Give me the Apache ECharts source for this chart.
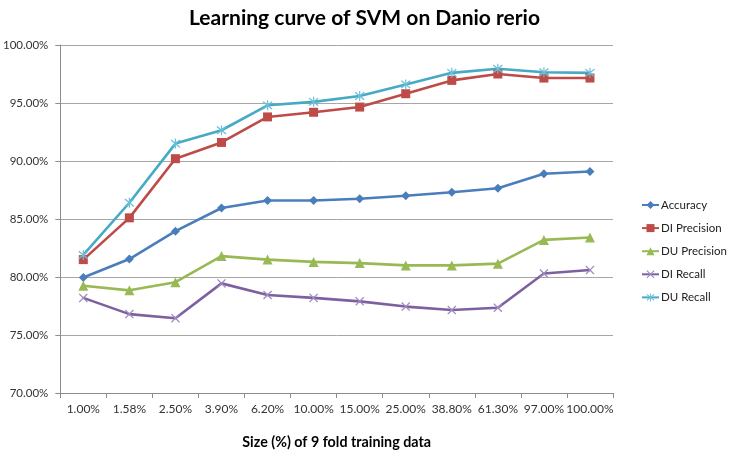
<!DOCTYPE html>
<html>
<head>
<meta charset="utf-8">
<script src="https://cdn.jsdelivr.net/npm/echarts@6/dist/echarts.min.js"></script>
<style>html,body{margin:0;padding:0;background:#fff;}#c{width:729px;height:454px;}</style>
</head>
<body>
<div id="c"></div>
<script>
const categories = ['1.00%','1.58%','2.50%','3.90%','6.20%','10.00%','15.00%','25.00%','38.80%','61.30%','97.00%','100.00%'];
const accuracy    = [79.95, 81.55, 83.95, 85.95, 86.6, 86.6, 86.75, 87.0, 87.3, 87.65, 88.9, 89.1];
const diPrecision = [81.5, 85.1, 90.2, 91.6, 93.8, 94.2, 94.65, 95.8, 96.95, 97.5, 97.15, 97.15];
const duPrecision = [79.25, 78.85, 79.55, 81.8, 81.5, 81.3, 81.2, 81.0, 81.0, 81.15, 83.2, 83.4];
const diRecall    = [78.2, 76.8, 76.45, 79.45, 78.45, 78.2, 77.9, 77.45, 77.15, 77.35, 80.3, 80.6];
const duRecall    = [81.9, 86.4, 91.5, 92.65, 94.8, 95.1, 95.6, 96.6, 97.6, 97.95, 97.65, 97.6];
const seriesNames = ['Accuracy','DI Precision','DU Precision','DI Recall','DU Recall'];
const yTicks = {min: 70, max: 100, interval: 5};

const font = 'Lato, "Open Sans", sans-serif';
const xPath = 'path://M0,1 L1,0 L5,4 L9,0 L10,1 L6,5 L10,9 L9,10 L5,6 L1,10 L0,9 L4,5 Z';
const starPath = 'path://M0,1 L1,0 L5,4 L9,0 L10,1 L6,5 L10,9 L9,10 L5,6 L1,10 L0,9 L4,5 Z M4.4,-1 L5.6,-1 L5.6,11 L4.4,11 Z';

function mk(name, data, color, symbol, size, symColor) {
  return {
    name, type: 'line', data, symbol, symbolSize: size,
    lineStyle: {color, width: 2.6},
    itemStyle: {color: symColor || color},
    emphasis: {disabled: true}
  };
}

const chart = echarts.init(document.getElementById('c'), null, {renderer: 'canvas'});
chart.setOption({
  animation: false,
  title: {
    text: 'Learning curve of SVM on Danio rerio',
    left: 'center', top: 3,
    textStyle: {fontFamily: font, fontWeight: 'bold', fontSize: 21, color: '#000'}
  },
  legend: {
    orient: 'vertical', left: 641, top: 199, padding: 0,
    itemWidth: 17, itemHeight: 10, itemGap: 11.1,
    textStyle: {fontFamily: font, fontSize: 11.5, color: '#222', padding: [0,0,0,-3], overflow: 'none', width: 90},
    data: seriesNames
  },
  grid: {left: 58, right: 116, top: 45, bottom: 59, containLabel: false},
  xAxis: {
    type: 'category', data: categories, boundaryGap: true,
    name: 'Size (%) of 9 fold training data', nameLocation: 'middle', nameGap: 42,
    nameTextStyle: {fontFamily: font, fontWeight: 'bold', fontSize: 14.3, color: '#000'},
    axisLine: {lineStyle: {color: '#8c8c8c', width: 1}},
    axisTick: {show: true, alignWithLabel: false, length: 5, lineStyle: {color: '#8c8c8c'}},
    axisLabel: {fontFamily: font, fontSize: 12, color: '#333', margin: 10, interval: 0}
  },
  yAxis: {
    type: 'value', min: yTicks.min, max: yTicks.max, interval: yTicks.interval,
    axisLine: {show: true, lineStyle: {color: '#8c8c8c', width: 1}},
    axisTick: {show: true, length: 5, lineStyle: {color: '#8c8c8c'}},
    axisLabel: {fontFamily: font, fontSize: 11.5, color: '#333', margin: 12,
      formatter: v => v.toFixed(2) + '%'},
    splitLine: {lineStyle: {color: '#a6a6a6', width: 1}}
  },
  series: [
    mk(seriesNames[0], accuracy, '#4a7ebb', 'diamond', 9),
    mk(seriesNames[1], diPrecision, '#be4b48', 'rect', 9),
    mk(seriesNames[2], duPrecision, '#98b954', 'triangle', 10),
    mk(seriesNames[3], diRecall, '#7d60a0', xPath, 9, '#9f8bc0'),
    mk(seriesNames[4], duRecall, '#46aac5', starPath, 10, '#6cc0d8')
  ]
});
</script>
</body>
</html>
